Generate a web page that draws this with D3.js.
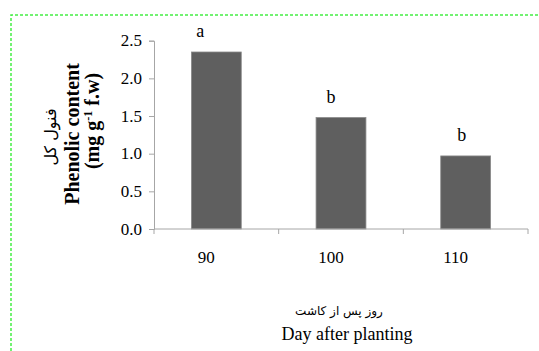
<!DOCTYPE html>
<html>
<head>
<meta charset="utf-8">
<script src="https://cdn.jsdelivr.net/npm/d3@7"></script>
<style>
  body { margin: 0; background: #fff; }
  svg { display: block; }
  .serif { font-family: "Liberation Serif", "Times New Roman", Tinos, "DejaVu Serif", serif; }
</style>
</head>
<body>
<svg id="chart" width="539" height="351"></svg>
<script>
// data
const days = ["90", "100", "110"];
const phenolic = [2.35, 1.48, 0.97];
const letters = ["a", "b", "b"];
const yTicks = [0, 0.5, 1.0, 1.5, 2.0, 2.5];

const svg = d3.select("#chart");
const width = +svg.attr("width");
const height = +svg.attr("height");
const margin = { top: 40.7, right: 11, bottom: 122, left: 154 };
const innerWidth = width - margin.left - margin.right;
const innerHeight = height - margin.top - margin.bottom;
const axisColor = "#a6a6a6";

// green dashed frame (top and left only)
svg.append("path")
    .attr("d", `M11,${height} L11,15 L${width},15`)
    .attr("fill", "none")
    .attr("stroke", "#44ee44")
    .attr("stroke-width", 1.5)
    .attr("stroke-dasharray", "3,2");

const x = d3.scaleBand().domain(days)
    .range([margin.left, margin.left + innerWidth])
    .paddingInner(0.6).paddingOuter(0.3);
const y = d3.scaleLinear().domain([0, 2.5]).range([margin.top + innerHeight, margin.top]);

// y axis (line + ticks from d3, labels drawn beside it)
const yAxis = svg.append("g").attr("transform", `translate(${margin.left},0)`)
    .call(d3.axisLeft(y).tickValues(yTicks).tickFormat("").tickSize(5));
yAxis.selectAll("path, line").attr("stroke", axisColor);
svg.selectAll(".ylbl").data(yTicks).join("text")
    .attr("class", "ylbl serif")
    .attr("x", margin.left - 12)
    .attr("y", d => y(d))
    .attr("dy", "0.34em")
    .attr("text-anchor", "end")
    .style("font-size", "17px")
    .text(d3.format(".1f"));

// bars
svg.selectAll(".bar")
  .data(phenolic)
  .join("rect")
    .attr("class", "bar")
    .attr("x", (d, i) => x(days[i]))
    .attr("y", d => y(d))
    .attr("width", x.bandwidth())
    .attr("height", d => y(0) - y(d))
    .attr("fill", "#5f5f5f")
    .attr("stroke", "#8a8a8a")
    .attr("stroke-width", 0.8);

// x axis: line with ticks at category boundaries
const gap = (x.step() - x.bandwidth()) / 2;
const bounds = days.map(d => x(d) - gap).concat([margin.left + innerWidth]);
svg.append("line")
    .attr("x1", margin.left).attr("x2", margin.left + innerWidth)
    .attr("y1", y(0)).attr("y2", y(0))
    .attr("stroke", axisColor);
svg.selectAll(".tk").data(bounds).join("line")
    .attr("class", "tk")
    .attr("x1", d => d).attr("x2", d => d)
    .attr("y1", y(0)).attr("y2", y(0) + 5)
    .attr("stroke", axisColor);
svg.selectAll(".lbl").data(days).join("text")
    .attr("class", "lbl serif")
    .attr("x", d => x(d) + x.bandwidth() / 2 - 10)
    .attr("y", y(0) + 34)
    .attr("text-anchor", "middle")
    .style("font-size", "17px")
    .text(d => d);

// significance letters
svg.selectAll(".letter")
  .data(phenolic)
  .join("text")
    .attr("class", "letter serif")
    .attr("x", (d, i) => x(days[i]) + x.bandwidth() / 2 - 16 + i * 6)
    .attr("y", d => y(d) - 15)
    .attr("text-anchor", "middle")
    .style("font-size", "18px")
    .text((d, i) => letters[i]);

// y axis title (three rotated lines, rotated about their own anchor)
svg.append("text")
    .attr("x", 56).attr("y", 137)
    .attr("transform", "rotate(-90,56,137)")
    .attr("text-anchor", "middle")
    .style("font-family", "DejaVu Sans, sans-serif")
    .style("font-size", "16px")
    .text("فنول کل");
svg.append("text")
    .attr("class", "serif")
    .attr("x", 79).attr("y", 134)
    .attr("transform", "rotate(-90,79,134)")
    .attr("text-anchor", "middle")
    .style("font-size", "20px")
    .style("font-weight", "bold")
    .text("Phenolic content");
const l3 = svg.append("text")
    .attr("class", "serif")
    .attr("x", 99).attr("y", 121)
    .attr("transform", "rotate(-90,99,121)")
    .attr("text-anchor", "middle")
    .style("font-size", "20px")
    .style("font-weight", "bold");
l3.append("tspan").text("(mg g");
l3.append("tspan").attr("dy", -7).style("font-size", "12px").text("-1");
l3.append("tspan").attr("dy", 7).text(" f.w)");

// x axis title
svg.append("text")
    .attr("x", 339).attr("y", 315)
    .attr("text-anchor", "middle")
    .style("font-family", "DejaVu Sans, sans-serif")
    .style("font-size", "12px")
    .text("روز پس از کاشت");
svg.append("text")
    .attr("class", "serif")
    .attr("x", 347).attr("y", 340)
    .attr("text-anchor", "middle")
    .style("font-size", "18px")
    .text("Day after planting");
</script>
</body>
</html>
